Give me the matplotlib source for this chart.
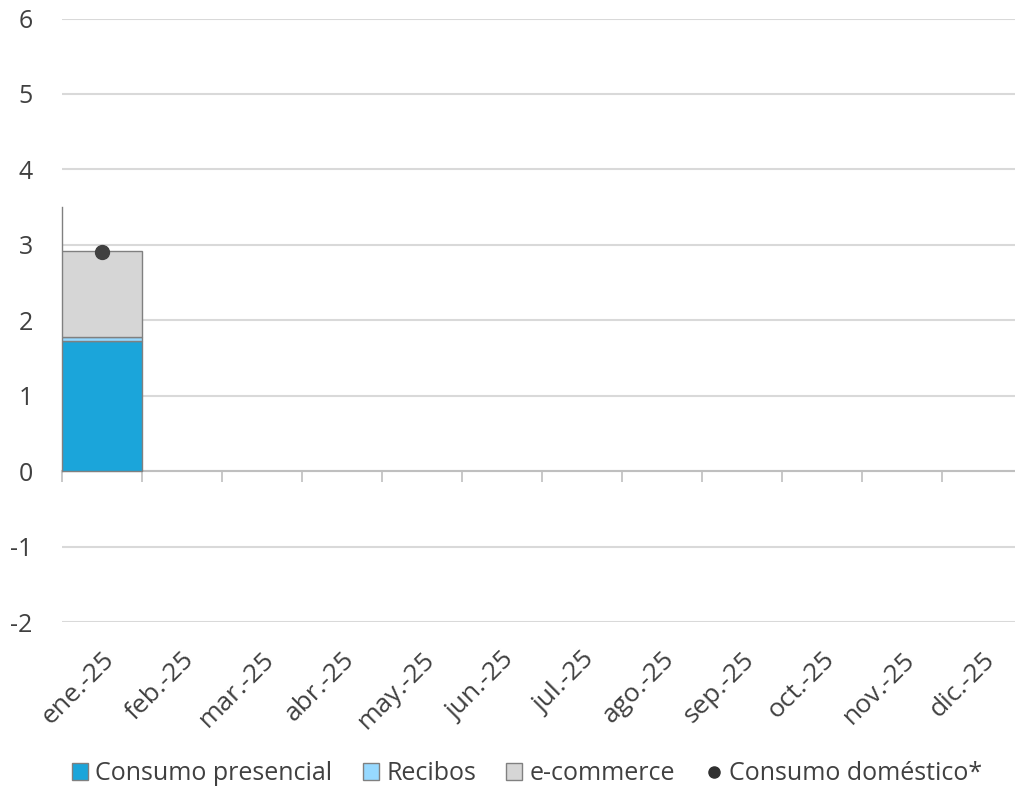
import matplotlib
matplotlib.use("Agg")
import matplotlib.pyplot as plt
from matplotlib.patches import Patch
from matplotlib.lines import Line2D
import numpy as np

plt.rcParams['font.family'] = ['Open Sans', 'DejaVu Sans']
plt.rcParams['axes.unicode_minus'] = False

months = ['ene.-25', 'feb.-25', 'mar.-25', 'abr.-25', 'may.-25', 'jun.-25',
          'jul.-25', 'ago.-25', 'sep.-25', 'oct.-25', 'nov.-25', 'dic.-25']
presencial = [1.72]
recibos = [0.06]
ecommerce = [1.14]
domestico = [2.91]

c_pres = '#1BA5DA'
c_rec = '#97D9FF'
c_ecom = '#D6D6D6'
c_dot = '#404040'
edge = '#808080'
grid_c = '#D9D9D9'
txt_c = '#404040'

W, H = 1015, 793
fig = plt.figure(figsize=(W/100, H/100), dpi=100)
ax = fig.add_axes([62/W, 1-622/H, 960/W, (622-18.5)/H])

x = np.arange(len(presencial))
pres = np.array(presencial)
rec = np.array(recibos)
ecom = np.array(ecommerce)
ax.bar(x, pres, width=1.0, color=c_pres, edgecolor=edge, linewidth=1, zorder=3)
ax.bar(x, rec, width=1.0, bottom=pres, color=c_rec, edgecolor=edge, linewidth=1, zorder=3)
ax.bar(x, ecom, width=1.0, bottom=pres+rec, color=c_ecom, edgecolor=edge, linewidth=1, zorder=3)
ax.plot(x, domestico, 'o', color=c_dot, markersize=10, zorder=4)

ax.set_xlim(-0.5, len(months)-0.5)
ax.set_ylim(-2, 6)
ax.set_yticks(range(-2, 7))
ax.yaxis.grid(True, color=grid_c, linewidth=1.5, zorder=0)
ax.tick_params(axis='y', length=0, labelsize=18, labelcolor=txt_c, pad=21)

for s in ['top', 'right']:
    ax.spines[s].set_visible(False)
ax.spines['left'].set_bounds(0, 3.5)
ax.spines['left'].set_color(edge)
ax.spines['left'].set_linewidth(1)
ax.spines['bottom'].set_position(('data', 0))
ax.spines['bottom'].set_color('#BFBFBF')
ax.spines['bottom'].set_linewidth(1.5)
ax.set_xticks(np.arange(len(months)+1) - 0.5)
ax.tick_params(axis='x', length=8, width=1.2, color='#BFBFBF', labelbottom=False)

sec = ax.secondary_xaxis(0)
sec.set_xticks(np.arange(len(months)))
sec.set_xticklabels(months, rotation=45, ha='right', rotation_mode='anchor',
                    fontsize=19, color=txt_c)
sec.tick_params(length=0, pad=18)
sec.spines['bottom'].set_visible(False)

handles = [Patch(facecolor=c_pres, edgecolor=edge, label='Consumo presencial'),
           Patch(facecolor=c_rec, edgecolor=edge, label='Recibos'),
           Patch(facecolor=c_ecom, edgecolor=edge, label='e-commerce'),
           Line2D([], [], marker='o', linestyle='none', color='#303030', markersize=8,
                  label='Consumo doméstico*')]
leg = fig.legend(handles=handles, loc='center', bbox_to_anchor=(527/W, 1-774/H),
                 ncol=4, frameon=False, fontsize=18, handlelength=0.65, handleheight=0.65,
                 handletextpad=0.3, columnspacing=1.2, labelcolor=txt_c,
                 borderpad=0, borderaxespad=0)

fig.savefig('out.png', dpi=100)
